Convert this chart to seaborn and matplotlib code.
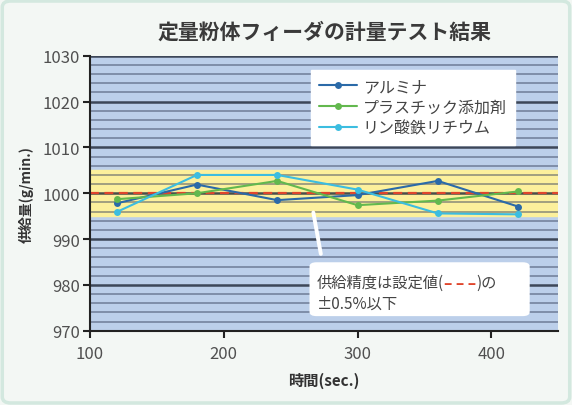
import pandas as pd
import seaborn as sns
import matplotlib.pyplot as plt
from matplotlib.patches import FancyBboxPatch

# --- data ---
times = [120, 180, 240, 300, 360, 420]
alumina = [997.8, 1001.9, 998.5, 999.6, 1002.7, 997.1]
plastic = [998.7, 1000.0, 1002.7, 997.4, 998.4, 1000.4]
lfp = [995.9, 1004.0, 1004.0, 1000.8, 995.6, 995.4]
series_names = ["アルミナ", "プラスチック添加剤", "リン酸鉄リチウム"]
series_colors = ["#2b6aa8", "#63b84e", "#3cbde0"]
setpoint = 1000
band = (995, 1005)

rows = []
for name, vals in zip(series_names, [alumina, plastic, lfp]):
    for t, v in zip(times, vals):
        rows.append({"time": t, "feed": v, "material": name})
df = pd.DataFrame(rows)

sns.set_theme(style="ticks")
plt.rcParams['font.family'] = ['Noto Sans CJK JP', 'DejaVu Sans']

fig = plt.figure(figsize=(5.72, 4.06), dpi=100)
fig.patch.set_facecolor("#f3f7f4")
fig.patches.append(FancyBboxPatch((0.004, 0.005), 0.992, 0.99, boxstyle="round,pad=0,rounding_size=0.015",
                                  transform=fig.transFigure, facecolor="none",
                                  edgecolor="#d3e8df", lw=2.5))
ax = fig.add_axes([0.157, 0.183, 0.819, 0.677])
ax.set_facecolor("#bccfea")

# tolerance band and stripes
ax.axhspan(band[0], band[1], color="#fcf09c", zorder=0.5)
for y in range(972, 1030, 2):
    if y % 10 == 0:
        ax.axhline(y, color="#1e2535", lw=1.8, alpha=0.8, zorder=1)
    else:
        ax.axhline(y, color="#3c4660", lw=1.1, alpha=0.6, zorder=1)
ax.axhline(1030, color="#1e2535", lw=1.8, alpha=0.8, zorder=1)
ax.axhline(setpoint, color="#e0452c", lw=1.6, ls=(0, (4, 2.5)), zorder=2)

sns.lineplot(data=df, x="time", y="feed", hue="material", hue_order=series_names,
             palette=series_colors, marker="o", markersize=5, markeredgewidth=0,
             lw=1.5, ax=ax, zorder=3)

ax.set_xlim(100, 450)
ax.set_ylim(970, 1030)
ax.set_xticks([100, 200, 300, 400])
ax.set_yticks(range(970, 1031, 10))
ax.tick_params(axis="both", direction="out", length=5, width=1.5, color="#222222",
               labelsize=12, labelcolor="#505050", pad=2)
ax.tick_params(axis="x", pad=5)
ax.get_yticklines()[6].set_color("#e0452c")
for side in ["top", "right"]:
    ax.spines[side].set_visible(False)
for side in ["left", "bottom"]:
    ax.spines[side].set_color("#222222")
    ax.spines[side].set_linewidth(1.5)

ax.set_xlabel("時間(sec.)", fontsize=11, fontweight="bold", color="#333333", labelpad=7)
ax.set_ylabel("供給量(g/min.)", fontsize=10, fontweight="bold", color="#333333", labelpad=6)
fig.text(0.568, 0.92, "定量粉体フィーダの計量テスト結果", ha="center", va="center",
         fontsize=15, fontweight="bold", color="#3a3a3a")

leg = ax.legend(loc="upper left", bbox_to_anchor=(0.472, 0.95), frameon=True, fancybox=False,
                fontsize=11.5, handlelength=2.4, handletextpad=0.35, borderpad=0.5,
                labelspacing=0.25, borderaxespad=0)
leg.get_frame().set_facecolor("white")
leg.get_frame().set_edgecolor("white")
leg.get_frame().set_alpha(1)
for t in leg.get_texts():
    t.set_color("#444444")

# callout
t1 = ax.annotate("供給精度は設定値(", xy=(267, 995.8), xytext=(0.485, 0.158),
                 textcoords="axes fraction", fontsize=11, color="#444444", va="baseline",
                 arrowprops=dict(arrowstyle="-", color="white", lw=2.8, shrinkA=0, shrinkB=0,
                                 relpos=(0.03, 2.2)))
ax.add_patch(FancyBboxPatch((0.469, 0.053), 0.47, 0.196, boxstyle="round,pad=0,rounding_size=0.015",
                            transform=ax.transAxes, facecolor="white", edgecolor="none", zorder=4))
t1.set_zorder(5)
t2 = ax.annotate("– – –", xy=(1, 0), xycoords=t1, va="bottom", fontsize=11,
                 color="#e0452c", fontweight="bold", zorder=5)
ax.annotate(")の", xy=(1, 0), xycoords=t2, va="bottom", fontsize=11, color="#444444", zorder=5)
ax.text(0.485, 0.083, "±0.5%以下", transform=ax.transAxes, fontsize=11, color="#444444",
        va="baseline", zorder=5)

fig.savefig("out.png", dpi=100, facecolor=fig.get_facecolor())
